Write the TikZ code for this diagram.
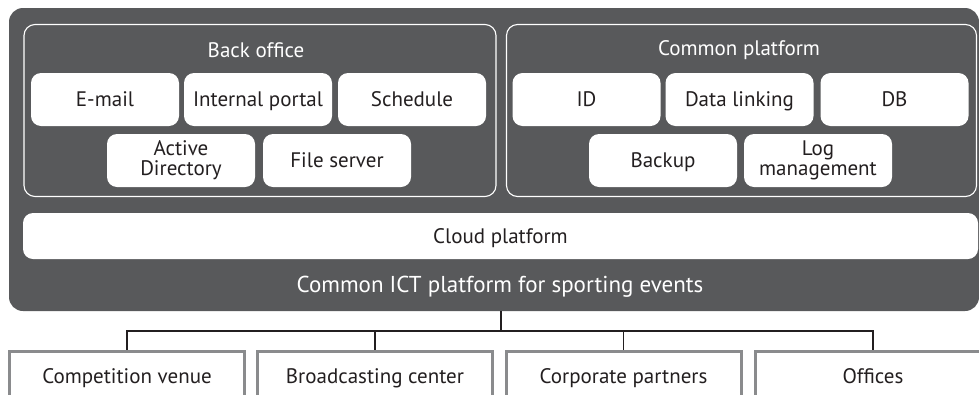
\documentclass[tikz,border=0pt]{standalone}
\usepackage{fontspec}
\setmainfont{PT Sans}
\usepackage{tikz}
\usetikzlibrary{positioning}
\definecolor{panelgray}{HTML}{58595B}
\definecolor{inkblack}{HTML}{231F20}
\definecolor{edgegray}{HTML}{8A8B8D}
\newcommand{\capstrut}{\rule[-0.25em]{0pt}{1.2em}}

\begin{document}
\begin{tikzpicture}[
    x=1pt, y=-1pt,
    outer/.style={draw=none, fill=panelgray, rounded corners=14pt, minimum width=970pt,
                  minimum height=303pt, inner sep=0pt},
    panel/.style={draw=white, line width=1.1pt, rounded corners=11pt, minimum width=472pt,
                  minimum height=172pt, inner sep=0pt},
    title/.style={text=white, font=\fontsize{21}{23}\selectfont, inner sep=0pt},
    svc/.style={draw=none, fill=white, rounded corners=10pt, minimum width=148pt,
                minimum height=53pt, align=center, text=inkblack, inner sep=0pt,
                font=\fontsize{21}{20}\selectfont, execute at begin node=\capstrut},
    site/.style={draw=edgegray, line width=3pt, fill=white, minimum width=235pt,
                 minimum height=50pt, text=inkblack, inner sep=0pt,
                 font=\fontsize{21}{23}\selectfont, execute at begin node=\capstrut},
    link/.style={draw=inkblack, line width=1.2pt},
]
\useasboundingbox (0,0) rectangle (979,394);
\clip (0,0) rectangle (979,394);

% Common ICT platform
\node[outer] (ict) at (494,159.5) {};
\node[title, font=\fontsize{23}{25}\selectfont] (icttitle) at (500,287) {Common ICT platform for sporting events};

% Back office
\node[panel] (back) at (260,110.5) {};
\node[title] (backtitle) at (256,50) {Back office};
\node[svc] (email)  at (105,99.5)  {E-mail};
\node[svc] (portal) at (258,99.5)  {Internal portal};
\node[svc] (sched)  at (412,99.5)  {Schedule};
\node[svc] (ad)     at (181,160.5) {Active\\Directory};
\node[svc] (files)  at (337,160.5) {File server};

% Common platform
\node[panel, minimum width=470pt] (common) at (741.5,110.5) {};
\node[title] (commontitle) at (739,50) {Common platform};
\node[svc] (id)     at (586.5,99.5) {ID};
\node[svc] (link)   at (739.5,99.5) {Data linking};
\node[svc] (db)     at (894.5,99.5) {DB};
\node[svc] (backup) at (663,160.5)  {Backup};
\node[svc] (logm)   at (818,160.5)  {Log\\management};

% Cloud platform
\node[svc, minimum width=955pt, minimum height=46pt] (cloud) at (500.5,236) {Cloud platform};

% Sites
\node[site] (venue)  at (127,376)   {Competition venue};
\node[site] (bcast)  at (375,376)   {Broadcasting center};
\node[site] (corp)   at (623.5,376) {Corporate partners};
\node[site] (office) at (873,376)   {Offices};

\coordinate (bus) at (501,331);
\draw[link] (bus |- ict.south) -- (bus);
\draw[link] (venue.north)  |- (bus);
\draw[link] (bcast.north)  |- (bus);
\draw[link] (corp.north)   |- (bus);
\draw[link] (office.north) |- (bus);
\end{tikzpicture}
\end{document}
